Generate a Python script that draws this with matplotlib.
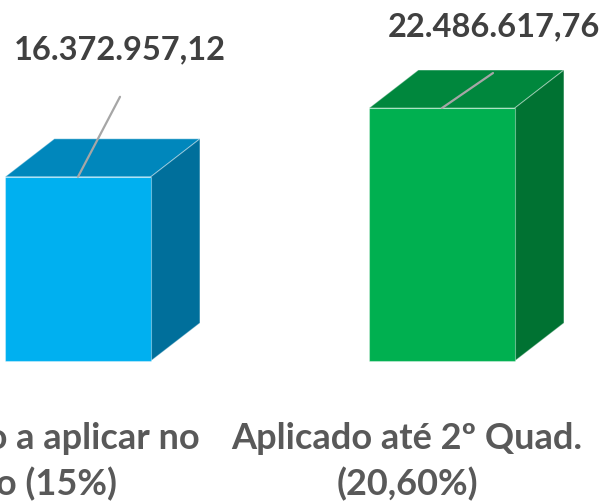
import matplotlib
matplotlib.use("Agg")
import matplotlib.pyplot as plt
from matplotlib.patches import Polygon

# ---- data ----
categories = ["Valor Mínimo a aplicar no\nExercício (15%)", "Aplicado até 2º Quad.\n(20,60%)"]
values = [16372957.12, 22486617.76]
value_labels = ["16.372.957,12", "22.486.617,76"]

# ---- style ----
front_colors = ["#00B0F0", "#00B050"]
top_colors = ["#0087BC", "#00873D"]
side_colors = ["#006F9B", "#007232"]
bar_width = 0.40
depth_x = 0.135          # category units
depth_y_px = 38          # pixels
label_offsets = [(42, 127), (52, 81)]      # offset pixels of value label from bar-top centre
leader_ends = [(42, 80), (51, 35)]
cat_offsets = [(-84, -101), (-35, -101)]

W, H, DPI = 605, 501, 100
fig = plt.figure(figsize=(W / DPI, H / DPI), dpi=DPI)
ax = fig.add_axes([0, 0, 1, 1])
px_per_unit_y = 11.25 / 1e6
ax.set_xlim(-78 / 364, (W - 78) / 364)
ax.set_ylim(-140 / px_per_unit_y, (H - 140) / px_per_unit_y)
ax.axis("off")

depth_y = depth_y_px / px_per_unit_y
x = list(range(len(values)))

bars = ax.bar(x, values, width=bar_width, color=front_colors, zorder=3,
              edgecolor=(1, 1, 1, 0.35), linewidth=0.8)
for i, b in enumerate(bars):
    x0 = b.get_x()
    x1 = x0 + b.get_width()
    h = b.get_height()
    top = Polygon([(x0, h), (x1, h), (x1 + depth_x, h + depth_y), (x0 + depth_x, h + depth_y)],
                  closed=True, facecolor=top_colors[i], edgecolor=(1, 1, 1, 0.35), lw=0.8, zorder=2)
    side = Polygon([(x1, 0), (x1 + depth_x, depth_y), (x1 + depth_x, h + depth_y), (x1, h)],
                   closed=True, facecolor=side_colors[i], edgecolor=(1, 1, 1, 0.35), lw=0.8, zorder=2)
    ax.add_patch(top)
    ax.add_patch(side)

    # leader line
    ax.annotate("", xy=(i, h), xytext=leader_ends[i], textcoords="offset pixels",
                arrowprops=dict(arrowstyle="-", color="#A6A6A6", lw=1.6, shrinkA=0, shrinkB=0),
                zorder=5)
    ax.annotate(value_labels[i], xy=(i, h), xytext=label_offsets[i], textcoords="offset pixels",
                ha="center", va="center", fontsize=23.5, fontweight="bold", color="#404040",
                family="Lato", zorder=6)

    ax.annotate(categories[i], xy=(i, 0), xytext=cat_offsets[i], textcoords="offset pixels",
                ha="center", va="center", multialignment="center", fontsize=26,
                fontweight="bold", color="#595959", family="Lato", linespacing=1.42)

fig.savefig("out.png", dpi=DPI)
